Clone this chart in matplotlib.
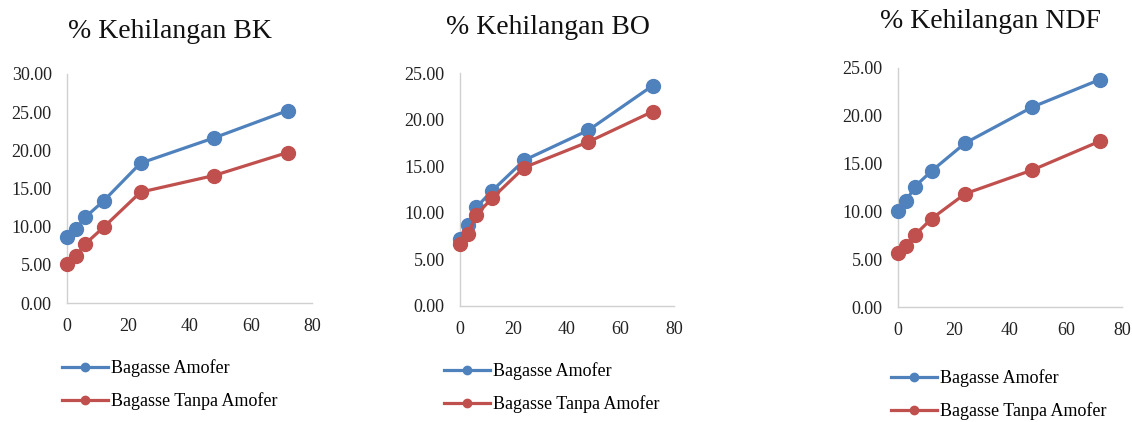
import matplotlib
matplotlib.use("Agg")
import matplotlib.pyplot as plt

plt.rcParams['font.family'] = ['Liberation Serif', 'DejaVu Serif']

hours = [0, 3, 6, 12, 24, 48, 72]

bk_amofer = [8.63, 9.68, 11.25, 13.39, 18.32, 21.63, 25.20]
bk_tanpa = [5.15, 6.11, 7.76, 9.94, 14.52, 16.70, 19.71]

bo_amofer = [7.14, 8.68, 10.57, 12.36, 15.64, 18.86, 23.64]
bo_tanpa = [6.61, 7.68, 9.75, 11.57, 14.86, 17.61, 20.86]

ndf_amofer = [10.08, 11.12, 12.59, 14.23, 17.15, 20.92, 23.78]
ndf_tanpa = [5.65, 6.42, 7.53, 9.24, 11.85, 14.33, 17.33]

titles = ["% Kehilangan BK", "% Kehilangan BO", "% Kehilangan NDF"]
series_labels = ["Bagasse Amofer", "Bagasse Tanpa Amofer"]
x_ticks = [0, 20, 40, 60, 80]
y_tops = [30, 25, 25]

BLUE = "#4F81BD"
RED = "#C0504D"
GRID = "#D0D0D0"

W, H = 1132, 422
fig = plt.figure(figsize=(W / 100, H / 100), dpi=100)

# axes boxes in pixels: left, right, top, bottom
boxes = [(67, 312, 74, 303), (460, 674, 73, 306), (898, 1122, 68, 307)]
title_pos = [(170, 32), (548, 28), (990, 22)]
legend_pos = [(62, 359), (444, 362), (891, 369)]

data = [(bk_amofer, bk_tanpa), (bo_amofer, bo_tanpa), (ndf_amofer, ndf_tanpa)]

for i in range(3):
    l, r, t, b = boxes[i]
    ax = fig.add_axes([l / W, (H - b) / H, (r - l) / W, (b - t) / H])
    a, c = data[i]
    h1, = ax.plot(hours, a, color=BLUE, lw=2.3, marker='o', ms=10, clip_on=False, zorder=3)
    h2, = ax.plot(hours, c, color=RED, lw=2.3, marker='o', ms=10, clip_on=False, zorder=3)
    ax.set_xlim(0, 80)
    ax.set_ylim(0, y_tops[i])
    ax.set_xticks(x_ticks)
    ax.set_yticks(list(range(0, y_tops[i] + 1, 5)))
    ax.set_yticklabels([f"{v:.2f}" for v in range(0, y_tops[i] + 1, 5)])
    ax.tick_params(length=0, labelsize=13, colors='#222222')
    ax.tick_params(axis='x', pad=11)
    ax.tick_params(axis='y', pad=11)
    for s in ['top', 'right']:
        ax.spines[s].set_visible(False)
    for s in ['left', 'bottom']:
        ax.spines[s].set_color(GRID)
        ax.spines[s].set_linewidth(1.0)
    tx, ty = title_pos[i]
    fig.text(tx / W, 1 - ty / H, titles[i], ha='center', va='center', fontsize=20, color='#111111')
    lx, ly = legend_pos[i]
    ax.legend([h1, h2], series_labels, loc='upper left',
              bbox_to_anchor=(lx / W, 1 - ly / H), bbox_transform=fig.transFigure,
              frameon=False, fontsize=13, handlelength=2.55, handletextpad=0.15,
              labelspacing=0.85, markerscale=0.6, borderaxespad=0, borderpad=0)

fig.savefig("out.png", dpi=100)
